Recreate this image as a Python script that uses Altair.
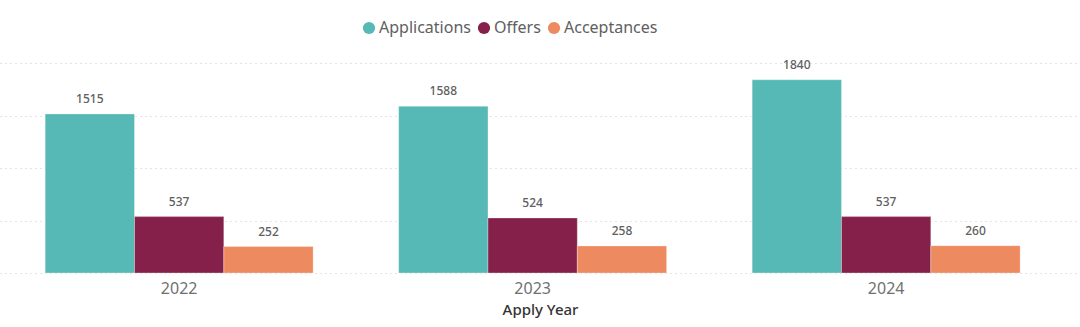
import altair as alt
import pandas as pd

years = ["2022", "2023", "2024"]
series = ["Applications", "Offers", "Acceptances"]
applications = [1515, 1588, 1840]
offers = [537, 524, 537]
acceptances = [252, 258, 260]
colors = ["#56B9B5", "#85204A", "#EE8A5F"]

rows = []
for i, y in enumerate(years):
    for s, vals in zip(series, [applications, offers, acceptances]):
        rows.append({"Apply Year": y, "Series": s, "Value": vals[i]})
df = pd.DataFrame(rows)

base = alt.Chart(df).encode(
    x=alt.X("Apply Year:N", sort=years,
            scale=alt.Scale(paddingInner=0.242, paddingOuter=0.1486, align=0.43),
            axis=alt.Axis(title="Apply Year", labelAngle=0, labelFontSize=16,
                          labelColor="#707070", labelFont="Noto Sans", labelPadding=7,
                          titleFont="Noto Sans", titleFontSize=15, titleFontWeight=500,
                          titleColor="#333333", titlePadding=6,
                          ticks=False, domain=False, grid=False)),
    xOffset=alt.XOffset("Series:N", sort=series, scale=alt.Scale(paddingInner=0, paddingOuter=0)),
    y=alt.Y("Value:Q", scale=alt.Scale(domain=[0, 2000], nice=False),
            axis=alt.Axis(title=None, labels=False, ticks=False, domain=False,
                          values=[0, 500, 1000, 1500, 2000], grid=True,
                          gridDash=[1, 4], gridColor="#C8C8C8", gridWidth=1)),
)

bars = base.mark_bar(stroke="#ffffff", strokeWidth=0.5, strokeOpacity=0.6).encode(
    color=alt.Color("Series:N", sort=series,
                    scale=alt.Scale(domain=series, range=colors),
                    legend=alt.Legend(title=None, orient="none", direction="horizontal",
                                      legendX=361, legendY=-43, symbolType="circle",
                                      symbolSize=150, symbolStrokeWidth=0,
                                      labelFont="Noto Sans", labelFontSize=16,
                                      labelColor="#606060", columnPadding=5,
                                      symbolOffset=0, labelOffset=2))
)

labels = base.mark_text(baseline="bottom", dy=-8, fontSize=12, font="Noto Sans",
                        fontWeight=500, color="#606060").encode(text="Value:Q")

chart = (bars + labels).properties(
    width=1080, height=210,
    padding={"top": 63, "left": 0, "right": 0, "bottom": 54},
    autosize=alt.AutoSizeParams(type="none"),
).configure_view(stroke=None)

chart.save("out.html", embed_options={"renderer": "svg", "actions": False})
